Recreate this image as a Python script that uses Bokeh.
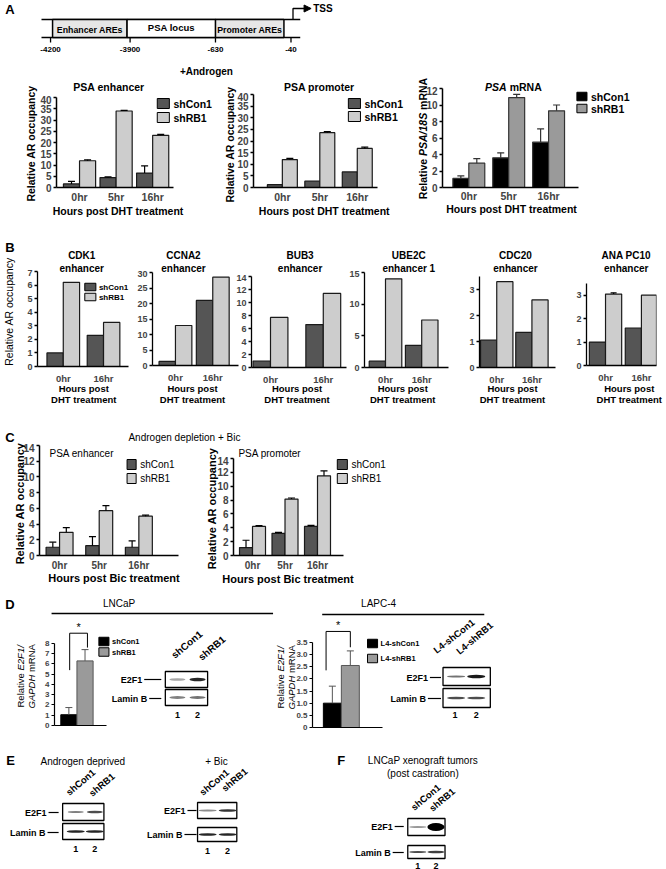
import numpy as np
from bokeh.plotting import figure
from bokeh.models import Range1d, FixedTicker, ColumnDataSource, Whisker, TeeHead, NumeralTickFormatter
from bokeh.layouts import column
from bokeh.embed import file_html
from bokeh.resources import INLINE
from bokeh.core.properties import value

FONT = "Liberation Sans"
PAGE = 0
W, H = 666, 869
# a background canvas's frame sits 26.3px in from its left edge and 3px in from its right edge;
# two canvases (one shifted left) make data units equal page pixels over the whole width
INSET_L, INSET_R = 26.3, 3.0
DARK, LIGHT = "#555555", "#cdcdcd"
BLACK, MID = "#000000", "#9a9a9a"

# ---------------- data ----------------
hours3 = ["0hr", "5hr", "16hr"]
hours2 = ["0hr", "16hr"]
groups = ["shCon1", "shRB1"]
groups_l4 = ["L4-shCon1", "L4-shRB1"]

# Panel A (+Androgen)
psa_enh_con = [1.6, 4.4, 6.4]
psa_enh_con_err = [1.1, 0.3, 3.2]
psa_enh_rb = [11.9, 34.0, 23.2]
psa_enh_rb_err = [0.4, 0.3, 0.4]
psa_pro_con = [1.2, 2.7, 6.7]
psa_pro_con_err = [0.0, 0.0, 0.0]
psa_pro_rb = [12.0, 23.6, 16.8]
psa_pro_rb_err = [0.5, 0.4, 0.6]
psa_mrna_con = [1.1, 3.6, 5.5]
psa_mrna_con_err = [0.3, 0.6, 1.6]
psa_mrna_rb = [2.95, 10.9, 9.3]
psa_mrna_rb_err = [0.55, 0.4, 0.7]

# Panel B
b_genes = ["CDK1", "CCNA2", "BUB3", "UBE2C", "CDC20", "ANA PC10"]
b_sub = ["enhancer", "enhancer", "enhancer", "enhancer 1", "enhancer", "enhancer"]
cdk1_con, cdk1_rb = [1.0, 2.3], [6.2, 3.25]
ccna2_con, ccna2_rb = [1.3, 21.0], [12.9, 28.5]
bub3_con, bub3_rb = [1.0, 6.6], [7.7, 11.4]
ube2c_con, ube2c_rb = [1.0, 3.5], [14.0, 7.5]
cdc20_con, cdc20_rb = [1.05, 1.35], [3.3, 2.6]
anapc10_con, anapc10_rb = [1.0, 1.6], [3.05, 3.0]
anapc10_rb_err = [0.05, 0.0]

# Panel C (Androgen depletion + Bic)
bic_enh_con = [1.05, 1.25, 1.05]
bic_enh_con_err = [0.65, 1.15, 0.8]
bic_enh_rb = [2.95, 5.7, 5.0]
bic_enh_rb_err = [0.6, 0.65, 0.15]
bic_pro_con = [1.15, 3.2, 4.2]
bic_pro_con_err = [1.05, 0.15, 0.15]
bic_pro_rb = [4.2, 8.15, 11.5]
bic_pro_rb_err = [0.1, 0.15, 0.7]

# Panel D (E2F1 mRNA)
lncap_e2f1 = [1.05, 6.3]
lncap_e2f1_err = [0.7, 1.1]
lncap_sig = [9.0, 5.4, 7.6]      # bracket top, left foot, right foot
lapc4_e2f1 = [1.0, 2.55]
lapc4_e2f1_err = [0.7, 0.6]
lapc4_sig = [3.95, 2.35, 3.3]

# PSA locus diagram
are_labels = ["Enhancer AREs", "PSA locus", "Promoter AREs"]
locus_ticks = ["-4200", "-3900", "-630", "-40"]

# Western blot band intensities (lane 1, lane 2)
lanes = ["1", "2"]
lncap_blot_e2f1, lncap_blot_lamin = [0.35, 0.85], [0.5, 0.55]
lapc4_blot_e2f1, lapc4_blot_lamin = [0.55, 0.9], [0.7, 0.7]
ad_blot_e2f1, ad_blot_lamin = [0.5, 0.7], [0.85, 0.85]
bic_blot_e2f1, bic_blot_lamin = [0.45, 0.8], [0.85, 0.85]
xeno_blot_e2f1, xeno_blot_lamin = [0.4, 1.0], [0.7, 0.75]


# ---------------- background canvases (texts, diagram, blots) ----------------
def make_bg(host_left):
    f = figure(width=W, height=H,
               x_range=Range1d(host_left + INSET_L, host_left + W - INSET_R), y_range=Range1d(H, 0),
               min_border=0, min_border_left=0, min_border_right=0, min_border_top=0,
               min_border_bottom=0, toolbar_location=None, output_backend="svg",
               x_axis_location=None, y_axis_location=None)
    f.grid.visible = False
    f.outline_line_color = None
    f.background_fill_alpha = 0
    f.border_fill_alpha = 0
    f.styles = {"position": "absolute", "left": f"{host_left}px", "top": "0px"}
    return f


bgL = make_bg(-27)   # covers page x from -0.7 to 636
bgR = make_bg(0)     # covers page x from 26.3 to 663


def pick(x):
    return bgL if x < 200 else bgR


def T(x, y, s, size=10.5, style="bold", align="center", baseline="middle", angle=0.0, color="black"):
    pick(x).text(x=[x], y=[y], text=[s], text_font=value(FONT), text_font_size=f"{size}px",
                 text_font_style=style, text_align=align, text_baseline=baseline, angle=angle,
                 text_color=color)


def rot_pieces(x, y_bottom, pieces, size):
    # pieces: (text, style, advance in px including following space)
    y = y_bottom
    for s, st, adv in pieces:
        T(x, y, s, size, st, align="left", angle=np.pi / 2)
        y -= adv


def Q(l, r, t, b, **kw):
    pick(l).quad(left=l, right=r, top=t, bottom=b, **kw)


def S(x0, y0, x1, y1, w=1.3):
    pick(x0).segment(x0=[x0], y0=[y0], x1=[x1], y1=[y1], line_color="black", line_width=w)


def legend(x, ys, labels, colors, w, h, size, style="bold", gap=4):
    for y, lab, c in zip(ys, labels, colors):
        Q(x, x + w, y - h / 2, y + h / 2, fill_color=c, line_color="black", line_width=1)
        T(x + w + gap, y, lab, size, style, align="left")


def blot(box, xs, intens, thick, bw=16):
    x0, y0, x1, y1 = box
    Q(x0, x1, y0, y1, fill_color="white", line_color="black", line_width=1.3)
    yc = (y0 + y1) / 2
    for lx, it, th in zip(xs, intens, thick):
        g = int(round(255 * (1 - it)))
        pick(x0).ellipse(x=lx, y=yc, width=bw, height=th, fill_color="#%02x%02x%02x" % (g, g, g),
                         line_color=None)


def row_label(s, x_right, y, dash_end, size=9):
    T(x_right, y, s, size, "bold", align="right")
    S(x_right + 2, y, dash_end, y, 1.2)


# panel letters
for letter, (lx, ly) in zip("ABCDEF", [(7, 9), (7, 247), (7, 437), (7, 604), (8, 760), (337, 760)]):
    T(lx, ly, letter, 13, "bold", align="left")

# PSA locus diagram
S(43, 19, 300, 19, 1.5)
S(43, 37, 300, 37, 1.5)
edges = [54, 128, 216, 284]
fills = ["#e6e6e6", "white", "#e6e6e6"]
lab_y = [29.5, 27, 29.5]
for i in range(3):
    Q(edges[i], edges[i + 1], 19, 37, fill_color=fills[i], line_color="black", line_width=1.5)
    T((edges[i] + edges[i + 1]) / 2, lab_y[i], are_labels[i], 9.5 if i == 1 else 8.8, "bold")
for tx, tl in zip([52, 131, 216, 291], locus_ticks):
    S(tx, 37, tx, 42)
    T(tx, 49, tl, 8, "bold")
bgR.line(x=[293, 293, 305], y=[19, 8, 8], line_color="black", line_width=1.3)
bgR.patch(x=[304, 311, 304], y=[4.5, 8, 11.5], fill_color="black", line_color="black")
T(313, 8, "TSS", 10, "bold", align="left")
T(207, 71, "+Androgen", 10, "bold")

# Panel A texts
T(110, 86, "PSA enhancer", 10.5)
T(319, 86, "PSA promoter", 10.5)
T(483.7, 86, "PSA", 10.5, "bold italic", align="left")
T(508.2, 86, "mRNA", 10.5, "bold", align="left")
T(33, 143, "Relative AR occupancy", 10.5, angle=np.pi / 2)
T(230, 144, "Relative AR occupancy", 10.5, angle=np.pi / 2)
rot_pieces(422, 198.7, [("Relative", "bold", 43.2), ("PSA/18S", "bold italic", 46.1), ("mRNA", "bold", 32)], 10.5)
T(119, 210, "Hours post DHT treatment", 10.5)
T(324, 210, "Hours post DHT treatment", 10.5)
T(510, 208, "Hours post DHT treatment", 10.5)
legend(158, [103, 117], groups, [DARK, LIGHT], 12, 10, 10.5)
legend(348, [103, 116], groups, [DARK, LIGHT], 12, 10, 10.5)
legend(575, [96, 108], groups, [BLACK, MID], 10, 8.5, 10.5)

# Panel B texts
T(11, 311, "Relative AR occupancy", 10.5, "normal", angle=np.pi / 2)
b_title_x = [83, 184, 300, 408, 514, 624]
b_xl_x = [85, 193, 297, 402, 511, 627]
for i in range(6):
    T(b_title_x[i], 255, b_genes[i], 10)
    T(b_title_x[i], 268, b_sub[i], 10)
    T(b_xl_x[i], 388, "Hours post", 9.5)
    T(b_xl_x[i], 399, "DHT treatment", 9.5)
legend(86, [286.5, 296.5], groups, [DARK, LIGHT], 11, 7.5, 8, gap=3)

# Panel C texts
T(185, 437, "Androgen depletion + Bic", 10, "normal")
T(83, 453, "PSA enhancer", 10, "normal")
T(270, 453, "PSA promoter", 10, "normal")
T(22, 503, "Relative AR occupancy", 11, angle=np.pi / 2)
T(213, 508, "Relative AR occupancy", 11, angle=np.pi / 2)
T(115, 577, "Hours post Bic treatment", 11)
T(288, 578, "Hours post Bic treatment", 11)
legend(128, [464, 478], groups, [DARK, LIGHT], 9, 10, 10, "normal")
legend(337, [464, 478], groups, [DARK, LIGHT], 10, 10, 10, "normal")

# Panel D texts
T(120, 603, "LNCaP", 10, "normal")
S(53, 613, 273, 613, 1.6)
T(378, 603, "LAPC-4", 10, "normal")
S(322, 614, 483, 614, 1.6)
for lx1, lx2, yc in [(22, 33, 676), (281, 292, 677)]:
    rot_pieces(lx1, yc + 31, [("Relative", "normal", 37), ("E2F1/", "italic", 25.3)], 9.5)
    rot_pieces(lx2, yc + 32, [("GAPDH", "italic", 36.4), ("mRNA", "normal", 28)], 9.5)
legend(100, [641, 651.5], groups, [BLACK, MID], 10, 8.5, 7.5, gap=3)
legend(367, [643, 658], groups_l4, [BLACK, MID], 10, 8.5, 7.5, gap=3)

# LNCaP blot
ang = 0.70
T(177, 660, groups[0], 10, align="left", baseline="bottom", angle=ang)
T(204, 662, groups[1], 10, align="left", baseline="bottom", angle=ang)
blot((166, 671, 208, 687), [178, 198], lncap_blot_e2f1, [2.5, 3.5])
blot((166, 689, 208, 705), [178, 198], lncap_blot_lamin, [3, 3])
row_label("E2F1", 143, 679, 162)
row_label("Lamin B", 148, 698, 162)
T(178, 714, lanes[0], 9); T(198, 714, lanes[1], 9)

# LAPC-4 blot
T(437, 655, groups_l4[0], 9.5, align="left", baseline="bottom", angle=0.66)
T(460, 656, groups_l4[1], 9.5, align="left", baseline="bottom", angle=0.70)
blot((442, 667, 489, 685), [455, 475], lapc4_blot_e2f1, [2, 3.5], bw=18)
blot((442, 688, 489, 707), [455, 475], lapc4_blot_lamin, [2.5, 2.5], bw=18)
row_label("E2F1", 427, 677, 440)
row_label("Lamin B", 425, 698, 440)
T(454, 714, lanes[0], 9); T(475, 714, lanes[1], 9)

# Panel E
T(84, 761, "Androgen deprived", 10, "normal")
T(72, 797, groups[0], 9.5, align="left", baseline="bottom", angle=ang)
T(95, 798, groups[1], 9.5, align="left", baseline="bottom", angle=ang)
blot((64, 803, 105, 820), [77, 96], ad_blot_e2f1, [2, 2.5])
blot((64, 823, 105, 839), [77, 96], ad_blot_lamin, [2.5, 2.5], bw=18)
row_label("E2F1", 48, 812, 60)
row_label("Lamin B", 47, 832, 60)
T(77, 848, lanes[0], 9); T(96, 848, lanes[1], 9)

T(217, 761, "+ Bic", 10, "normal")
T(205, 797, groups[0], 9.5, align="left", baseline="bottom", angle=ang)
T(227, 793, groups[1], 9.5, align="left", baseline="bottom", angle=ang)
blot((198, 802, 237, 818), [208, 228], bic_blot_e2f1, [2, 2.5], bw=18)
blot((198, 827, 237, 841), [208, 228], bic_blot_lamin, [2.5, 2.5], bw=18)
row_label("E2F1", 186, 810, 197)
row_label("Lamin B", 183, 834, 197)
T(208, 850, lanes[0], 9); T(228, 850, lanes[1], 9)

# Panel F
T(422, 760, "LNCaP xenograft tumors", 10, "normal")
T(422, 773, "(post castration)", 10, "normal")
T(415, 812, groups[0], 9.5, align="left", baseline="bottom", angle=ang)
T(433, 813, groups[1], 9.5, align="left", baseline="bottom", angle=ang)
blot((407, 818, 444, 835), [417, 435], xeno_blot_e2f1, [2, 8], bw=17)
blot((407, 845, 444, 858), [417, 435], xeno_blot_lamin, [2, 2.5], bw=17)
row_label("E2F1", 392, 826, 403)
row_label("Lamin B", 390, 852, 403)
T(417, 865, lanes[0], 9); T(435, 865, lanes[1], 9)


# ---------------- bar charts ----------------
def bar_chart(box, y_end, y_ticks, x_lo, x_hi, cats, vals_a, vals_b, err_a=None, err_b=None,
              colors=(DARK, LIGHT), outline="#1a1a1a", bar_w=0.4, tick_px=10, xlab_px=10.5,
              xlab_standoff=4, ml=24, mb=22, err_color="black", cap=7, y_bounds=None,
              show_x=True, axis_w=1.5, fmt=None, zero_label=None):
    left, top, right, bottom = box
    fw = int(round(right - left))
    fh = int(round(bottom - top))
    mt, mr = 2, 1
    p = figure(width=fw + ml + mr, height=fh + mt + mb,
               x_range=Range1d(x_lo, x_hi), y_range=Range1d(0, y_end),
               min_border_left=ml, min_border_right=mr, min_border_top=mt, min_border_bottom=mb,
               toolbar_location=None, output_backend="svg")
    p.styles = {"position": "absolute", "left": f"{round(left - ml - PAGE)}px",
                "top": f"{round(top - mt - PAGE)}px"}
    p.background_fill_alpha = 0
    p.border_fill_alpha = 0
    p.outline_line_color = None
    p.xgrid.visible = False
    p.ygrid.visible = False
    ya = p.yaxis[0]
    xa = p.xaxis[0]
    ya.ticker = FixedTicker(ticks=y_ticks, minor_ticks=[])
    for ax in (ya, xa):
        ax.axis_line_width = axis_w
        ax.axis_line_color = "black"
        ax.major_tick_line_width = axis_w
        ax.minor_tick_line_color = None
        ax.major_label_text_font = FONT
        ax.major_label_text_font_style = "bold"
    ya.major_tick_out = 3
    ya.major_tick_in = 0
    ya.major_label_text_font_size = f"{tick_px}px"
    ya.major_label_standoff = 2
    if y_bounds:
        ya.bounds = y_bounds
    if fmt:
        ya.formatter = NumeralTickFormatter(format=fmt)
    if zero_label:
        ya.major_label_overrides = {0: zero_label}
    xa.major_tick_out = 0
    xa.major_tick_in = 0
    xa.major_tick_line_color = None
    idx = list(range(len(cats)))
    if show_x:
        xa.ticker = FixedTicker(ticks=idx, minor_ticks=[])
        xa.major_label_overrides = {i: c for i, c in enumerate(cats)}
        xa.major_label_text_font_size = f"{xlab_px}px"
        xa.major_label_standoff = xlab_standoff
    else:
        xa.ticker = FixedTicker(ticks=[], minor_ticks=[])
    for k, (vals, errs, col) in enumerate(((vals_a, err_a, colors[0]), (vals_b, err_b, colors[1]))):
        xs = [i + (k - 0.5) * bar_w for i in idx]
        src = ColumnDataSource(dict(x=xs, top=list(vals)))
        p.vbar(x="x", top="top", width=bar_w, bottom=0, fill_color=col, line_color=outline,
               line_width=1.2, source=src)
        if errs is not None:
            keep = [i for i, e in enumerate(errs) if e > 0]
            if keep:
                es = ColumnDataSource(dict(x=[xs[i] for i in keep], lo=[vals[i] for i in keep],
                                           hi=[vals[i] + errs[i] for i in keep]))
                p.add_layout(Whisker(source=es, base="x", lower="lo", upper="hi", dimension="height",
                                     line_color=err_color, line_width=1.2,
                                     upper_head=TeeHead(size=cap, line_color=err_color, line_width=1.2),
                                     lower_head=None, level="annotation"))
    return p


charts = []
# A
charts.append(bar_chart((56, 97.3, 173, 187.7), 40, list(range(0, 41, 5)), -0.63, 2.57, hours3,
                        psa_enh_con, psa_enh_rb, psa_enh_con_err, psa_enh_rb_err, bar_w=0.44,
                        xlab_standoff=3))
charts.append(bar_chart((253, 94, 377, 186.7), 40, list(range(0, 41, 5)), -0.77, 2.54, hours3,
                        psa_pro_con, psa_pro_rb, psa_pro_con_err, psa_pro_rb_err, bar_w=0.4,
                        xlab_standoff=3))
charts.append(bar_chart((441.7, 87.7, 578, 186.7), 12, list(range(0, 13, 2)), -0.66, 2.75, hours3,
                        psa_mrna_con, psa_mrna_rb, psa_mrna_con_err, psa_mrna_rb_err,
                        colors=(BLACK, MID), outline="#333333", err_color="#333333", bar_w=0.4,
                        xlab_standoff=2))
# B
b_specs = [
    ((33, 270.7, 128, 365.7), 7, list(range(0, 8)), -0.64, 1.62, cdk1_con, cdk1_rb, None, 0.405),
    ((148, 272.3, 238, 365.7), 30, list(range(0, 31, 5)), -0.615, 1.69, ccna2_con, ccna2_rb, None, 0.44),
    ((247, 276, 346, 366.7), 14, list(range(0, 15, 2)), -0.36, 1.44, bub3_con, bub3_rb, None, 0.33),
    ((360, 271.7, 448, 366.7), 15, [0, 5, 10, 15], -0.58, 1.74, ube2c_con, ube2c_rb, None, 0.45),
    ((475, 276, 555, 366.7), 3.5, [0, 1, 2, 3], -0.49, 1.67, cdc20_con, cdc20_rb, None, 0.46),
    ((582, 283.3, 656, 365.7), 3.5, [0, 1, 2, 3], -0.53, 1.42, anapc10_con, anapc10_rb, anapc10_rb_err, 0.45),
]
for box, ye, yt, xlo, xhi, va, vb, eb, bw in b_specs:
    charts.append(bar_chart(box, ye, yt, xlo, xhi, hours2, va, vb, None, eb, bar_w=bw, tick_px=9,
                            xlab_px=9.5, xlab_standoff=6, ml=20, axis_w=1.3, cap=6))
# C
charts.append(bar_chart((39.3, 445, 178, 555), 14, list(range(0, 15, 2)), -0.506, 3.0, hours3,
                        bic_enh_con, bic_enh_rb, bic_enh_con_err, bic_enh_rb_err, bar_w=0.34,
                        xlab_px=10, xlab_standoff=4, cap=7))
charts.append(bar_chart((233, 458, 343, 555), 14, list(range(0, 15, 2)), -0.585, 2.8, hours3,
                        bic_pro_con, bic_pro_rb, bic_pro_con_err, bic_pro_rb_err, bar_w=0.4,
                        xlab_px=10, xlab_standoff=4, cap=7))
# D
d1 = bar_chart((48, 620, 106, 725), 10.24, list(range(0, 9)), -0.89, 2.33, groups,
               lncap_e2f1, lncap_e2f1, None, None, colors=(BLACK, MID), bar_w=1.0, tick_px=8,
               show_x=False, mb=8, ml=18, y_bounds=(0, 8), axis_w=1.2)
charts.append(d1)
d2 = bar_chart((308, 620, 382, 727), 4.4, [0, 0.5, 1, 1.5, 2, 2.5, 3, 3.5], -1.105, 2.79, groups_l4,
               lapc4_e2f1, lapc4_e2f1, None, None, colors=(BLACK, MID), bar_w=1.0, tick_px=8,
               show_x=False, mb=8, ml=20, y_bounds=(0, 3.5), axis_w=1.2, fmt="0.0", zero_label="0")
charts.append(d2)


def d_bars(p, vals, errs, sig, sig_x):
    # one bar per group (replace the placeholder pair drawn by bar_chart)
    p.renderers = []
    p.center = [c for c in p.center if not isinstance(c, Whisker)]
    xs = [0, 1]
    src = ColumnDataSource(dict(x=xs, top=vals, hi=[v + e for v, e in zip(vals, errs)],
                                color=[BLACK, MID], lc=["black", "#555555"]))
    p.vbar(x="x", top="top", width=1.0, bottom=0, fill_color="color", line_color="lc",
           line_width=1.0, source=src)
    p.add_layout(Whisker(source=src, base="x", lower="top", upper="hi", dimension="height",
                         line_color="#555555", line_width=1,
                         upper_head=TeeHead(size=7, line_color="#555555", line_width=1),
                         lower_head=None, level="annotation"))
    top, f0, f1 = sig
    p.line(x=[sig_x[0], sig_x[0], sig_x[1], sig_x[1]], y=[f0, top, top, f1], line_color="black", line_width=1)
    p.text(x=[(sig_x[0] + sig_x[1]) / 2], y=[top], text=["*"], text_font=value(FONT),
           text_font_size="11px", text_align="center", text_baseline="bottom")


d_bars(d1, lncap_e2f1, lncap_e2f1_err, lncap_sig, [0.05, 1.15])
d_bars(d2, lapc4_e2f1, lapc4_e2f1_err, lapc4_sig, [-0.35, 1.0])

root = column([bgL, bgR] + charts, width=W, height=H)
root.styles = {"position": "relative", "overflow": "hidden", "background": "white"}

open("out.html", "w").write(file_html(root, INLINE))
